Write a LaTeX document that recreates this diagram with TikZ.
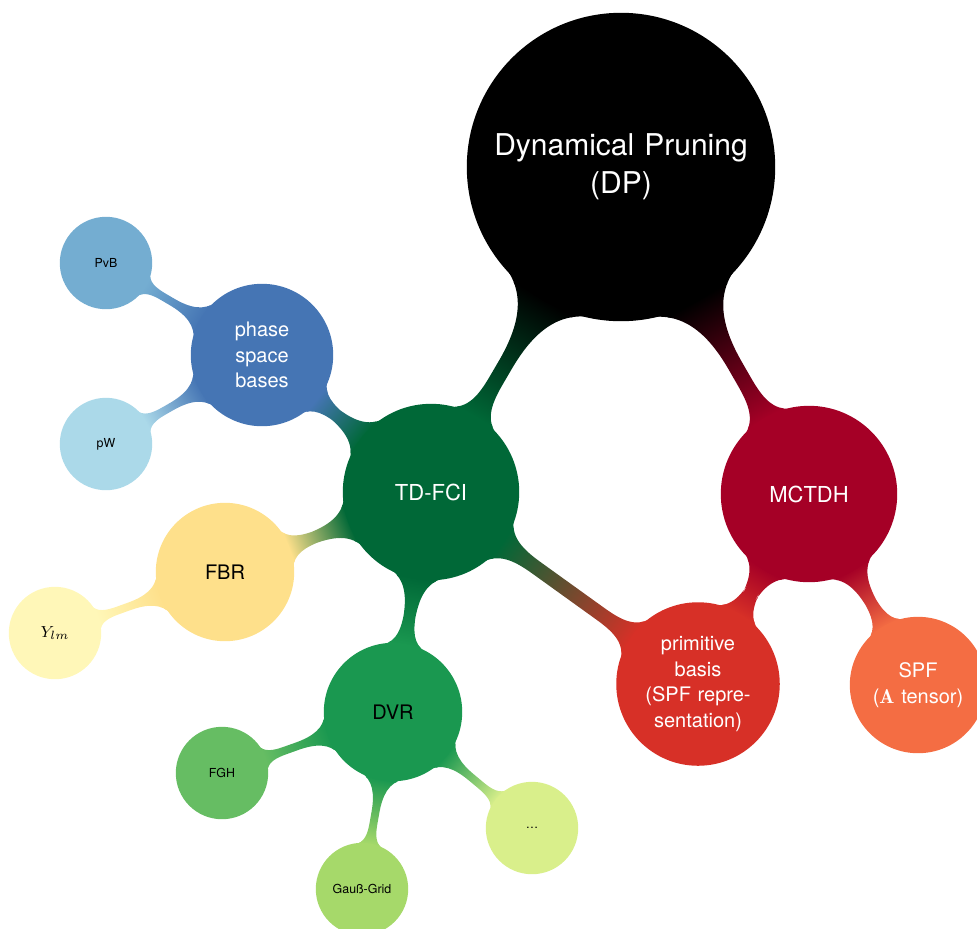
\documentclass[tikz,border=0pt]{standalone}
\usepackage{fontspec}
\setsansfont{TeX Gyre Heros}
\usetikzlibrary{mindmap,backgrounds}
\definecolor{cDP}{HTML}{000000}
\definecolor{cTD}{HTML}{006837}
\definecolor{cMC}{HTML}{A50026}
\definecolor{cPB}{HTML}{D73027}
\definecolor{cSPF}{HTML}{F46D43}
\definecolor{cPS}{HTML}{4575B4}
\definecolor{cPvB}{HTML}{74ADD1}
\definecolor{cpW}{HTML}{ABD9E9}
\definecolor{cFBR}{HTML}{FEE08B}
\definecolor{cY}{HTML}{FFF7B8}
\definecolor{cDVR}{HTML}{1A9850}
\definecolor{cFGH}{HTML}{66BD63}
\definecolor{cGG}{HTML}{A6D96A}
\definecolor{cDots}{HTML}{D9EF8B}
\begin{document}
\begin{tikzpicture}[x=0.5pt,y=-0.5pt,mindmap,
  bub/.style={concept, circle, minimum size=#1pt, inner sep=0pt, outer sep=0pt,
     text width=0.85*#1pt, align=center, font=\sffamily},
  bigtxt/.style={font=\sffamily\fontsize{15}{19}\selectfont},
  midtxt/.style={font=\sffamily\fontsize{11}{13}\selectfont},
  stdtxt/.style={font=\sffamily\fontsize{10}{12.7}\selectfont},
  mathtxt/.style={font=\fontsize{8}{9}\selectfont},
  smalltxt/.style={font=\sffamily\fontsize{6.2}{7.5}\selectfont}]
\useasboundingbox (0,0) rectangle (977,928);
\node[concept color=cDP, bub=153, bigtxt, text=white] (dp) at (621,167) {Dynamical Pruning\\(DP)};
\node[concept color=cTD, bub=87, midtxt, text=white] (td) at (431,492) {TD-FCI};
\node[concept color=cMC, bub=87, midtxt, text=white] (mc) at (809,494) {MCTDH};
\node[concept color=cPS, bub=70, stdtxt, text=white] (ps) at (262,355) {phase\\space\\bases};
\node[concept color=cPvB, bub=45, smalltxt, text=black] (pvb) at (106,263) {PvB};
\node[concept color=cpW, bub=45, smalltxt, text=black] (pw) at (106,444) {pW};
\node[concept color=cFBR, bub=68, stdtxt, text=black] (fbr) at (225,572) {FBR};
\node[concept color=cY, bub=45, mathtxt, text=black] (ylm) at (55,633) {$Y_{lm}$};
\node[concept color=cDVR, bub=68, stdtxt, text=black] (dvr) at (393,712) {DVR};
\node[concept color=cFGH, bub=45, smalltxt, text=black] (fgh) at (222,773) {FGH};
\node[concept color=cGG, bub=45, smalltxt, text=black] (gg) at (362,889) {Gauß-Grid};
\node[concept color=cDots, bub=45, smalltxt, text=black] (dots) at (532,828) {\dots};
\node[concept color=cPB, bub=77, stdtxt, text=white] (pb) at (698,684) {primitive\\basis\\(SPF repre-\\sentation)};
\node[concept color=cSPF, bub=67, stdtxt, text=white] (spf) at (918,685) {SPF\\($\mathbf{A}$ tensor)};
\begin{pgfonlayer}{background}
\path (dp) to[circle connection bar switch color=from (cDP) to (cTD)] (td);
\path (dp) to[circle connection bar switch color=from (cDP) to (cMC)] (mc);
\path (td) to[circle connection bar switch color=from (cTD) to (cPS)] (ps);
\path (ps) to[circle connection bar switch color=from (cPS) to (cPvB)] (pvb);
\path (ps) to[circle connection bar switch color=from (cPS) to (cpW)] (pw);
\path (td) to[circle connection bar switch color=from (cTD) to (cFBR)] (fbr);
\path (fbr) to[circle connection bar switch color=from (cFBR) to (cY)] (ylm);
\path (td) to[circle connection bar switch color=from (cTD) to (cDVR)] (dvr);
\path (dvr) to[circle connection bar switch color=from (cDVR) to (cFGH)] (fgh);
\path (dvr) to[circle connection bar switch color=from (cDVR) to (cGG)] (gg);
\path (dvr) to[circle connection bar switch color=from (cDVR) to (cDots)] (dots);
\path (td) to[circle connection bar switch color=from (cTD) to (cPB)] (pb);
\path (mc) to[circle connection bar switch color=from (cMC) to (cPB)] (pb);
\path (mc) to[circle connection bar switch color=from (cMC) to (cSPF)] (spf);
\end{pgfonlayer}
\end{tikzpicture}
\end{document}
